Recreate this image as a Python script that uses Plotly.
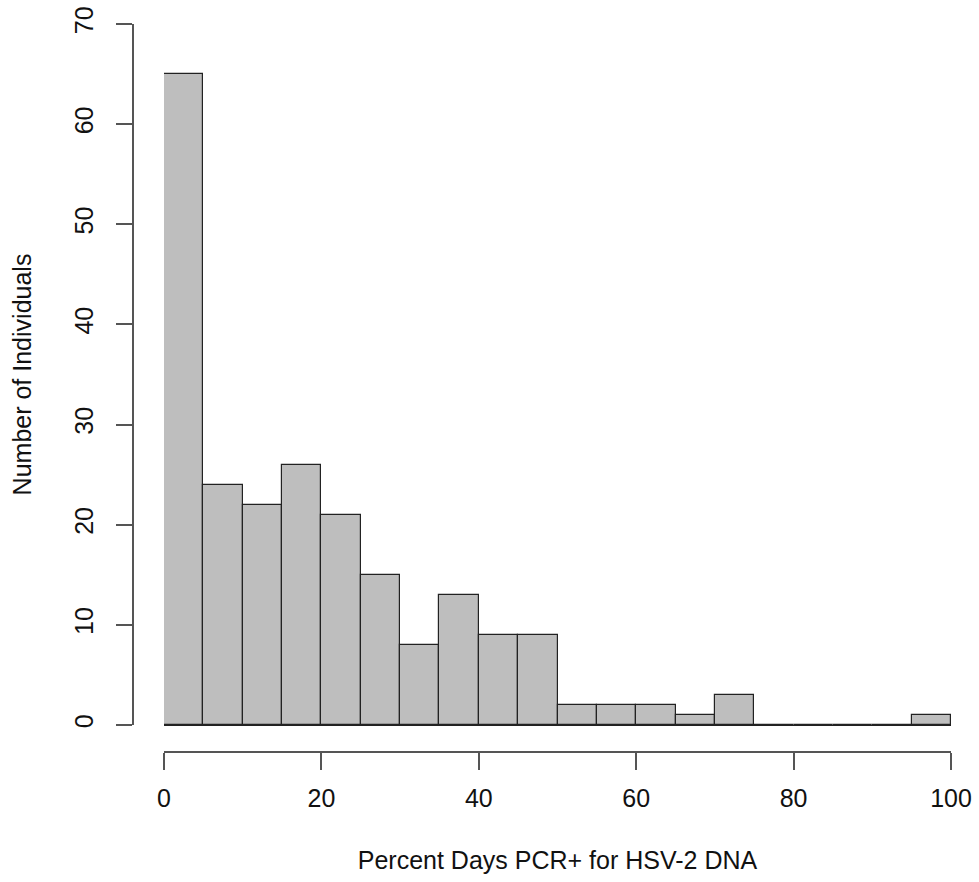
import plotly.graph_objects as go

# Histogram data (bin edges in percent, counts per bin)
bin_edges = [0, 5, 10, 15, 20, 25, 30, 35, 40, 45, 50, 55, 60, 65, 70, 75, 80, 85, 90, 95, 100]
counts = [65, 24, 22, 26, 21, 15, 8, 13, 9, 9, 2, 2, 2, 1, 3, 0, 0, 0, 0, 1]
x_ticks = [0, 20, 40, 60, 80, 100]
y_ticks = [0, 10, 20, 30, 40, 50, 60, 70]
x_title = "Percent Days PCR+ for HSV-2 DNA"
y_title = "Number of Individuals"

W, H = 979, 882


def px_x(p):
    return p / W


def px_y(p):
    return (H - p) / H


centers = [(a + b) / 2 for a, b in zip(bin_edges[:-1], bin_edges[1:])]
widths = [b - a for a, b in zip(bin_edges[:-1], bin_edges[1:])]

fig = go.Figure()
fig.add_trace(go.Bar(
    x=centers, y=counts, width=widths,
    marker=dict(color="#BEBEBE", line=dict(color="#222222", width=1.2)),
    hoverinfo="x+y", showlegend=False, cliponaxis=False,
))

font = dict(family="Liberation Sans, Arial, sans-serif", size=25, color="#111111")
axcol = "#555555"

fig.update_layout(
    width=W, height=H,
    margin=dict(l=0, r=0, t=0, b=0, autoexpand=False),
    paper_bgcolor="white", plot_bgcolor="white",
    bargap=0,
    font=font,
    xaxis=dict(
        domain=[px_x(164), px_x(951)], range=[bin_edges[0], bin_edges[-1]],
        anchor="free", position=px_y(752), automargin=False,
        showline=True, linecolor=axcol, linewidth=1.5,
        ticks="outside", ticklen=17, tickwidth=1.5, tickcolor=axcol,
        tickvals=x_ticks, ticktext=[str(v) for v in x_ticks],
        showgrid=False, zeroline=False, tickfont=font,
        ticklabelstandoff=7, ticklabeloverflow="allow",
        title=dict(text=x_title, font=font, standoff=40),
    ),
    yaxis=dict(
        domain=[px_y(725), px_y(24)], range=[0, 70],
        anchor="free", position=px_x(133), automargin=False,
        showline=True, linecolor=axcol, linewidth=1.5,
        ticks="outside", ticklen=16, tickwidth=1.5, tickcolor=axcol,
        tickvals=y_ticks, ticktext=[str(v) for v in y_ticks],
        tickangle=-90,
        showgrid=False, zeroline=True, zerolinecolor="#222222", zerolinewidth=1.2,
        tickfont=font, ticklabelstandoff=13, ticklabeloverflow="allow",
        title=dict(text=y_title, font=font, standoff=31),
    ),
)

fig.write_html(
    "out.html",
    config={"displayModeBar": False},
    post_script="document.body.style.margin='0';document.body.style.overflow='hidden';",
)
